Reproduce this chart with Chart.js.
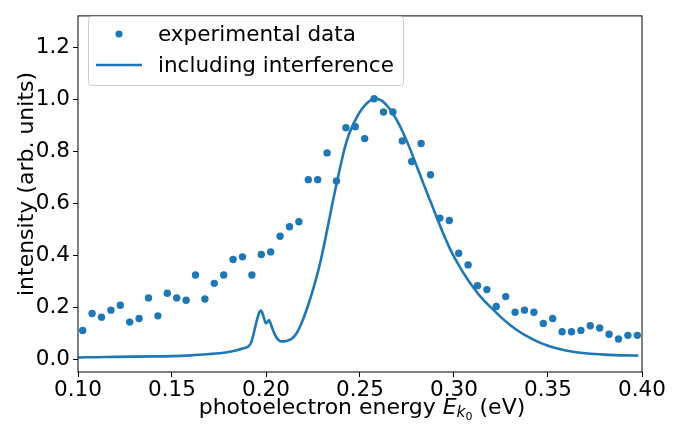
<!DOCTYPE html>
<html>
<head>
<meta charset="utf-8">
<script src="https://cdn.jsdelivr.net/npm/chart.js@4/dist/chart.umd.min.js"></script>
<style>
  body { margin: 0; background: #fff; }
  #wrap { width: 687px; height: 427px; }
</style>
</head>
<body>
<div id="wrap"><canvas id="chart" width="687" height="427"></canvas></div>
<script>
// measured points (energy in eV, intensity normalised)
const xExp = [0.1025, 0.1075, 0.1125, 0.1175, 0.1225, 0.1275, 0.1325, 0.1375, 0.1425, 0.1475,
              0.1525, 0.1575, 0.1625, 0.1675, 0.1725, 0.1775, 0.1825, 0.1875, 0.1925, 0.1975,
              0.2025, 0.2075, 0.2125, 0.2175, 0.2225, 0.2275, 0.2325, 0.2375, 0.2425, 0.2475,
              0.2525, 0.2575, 0.2625, 0.2675, 0.2725, 0.2775, 0.2825, 0.2875, 0.2925, 0.2975,
              0.3025, 0.3075, 0.3125, 0.3175, 0.3225, 0.3275, 0.3325, 0.3375, 0.3425, 0.3475,
              0.3525, 0.3575, 0.3625, 0.3675, 0.3725, 0.3775, 0.3825, 0.3875, 0.3925, 0.3975];
const yExp = [0.110, 0.175, 0.161, 0.188, 0.207, 0.142, 0.156, 0.235, 0.166, 0.253,
              0.235, 0.226, 0.323, 0.231, 0.291, 0.323, 0.383, 0.393, 0.323, 0.402,
              0.412, 0.472, 0.509, 0.528, 0.690, 0.690, 0.793, 0.685, 0.890, 0.894,
              0.848, 1.001, 0.950, 0.950, 0.839, 0.760, 0.829, 0.709, 0.542, 0.533,
              0.407, 0.362, 0.282, 0.267, 0.202, 0.240, 0.180, 0.188, 0.180, 0.137,
              0.156, 0.105, 0.105, 0.110, 0.128, 0.119, 0.095, 0.077, 0.091, 0.091];

// model curve "including interference"
const xFit = [0.100, 0.110, 0.120, 0.130, 0.140, 0.150, 0.160, 0.170, 0.175, 0.180,
              0.1845, 0.1880, 0.1906, 0.1922, 0.1935, 0.1950, 0.1962, 0.1973, 0.1983, 0.1993,
              0.2000, 0.2008, 0.2016, 0.2024, 0.2035, 0.2050, 0.2065, 0.2083, 0.2100, 0.2120,
              0.2140, 0.2160, 0.2180, 0.2200, 0.2220, 0.2240, 0.2260, 0.2280, 0.2300, 0.2320,
              0.2340, 0.2360, 0.2380, 0.2400, 0.2420, 0.2440, 0.2460, 0.2480, 0.2500, 0.2520,
              0.2540, 0.2560, 0.2580, 0.2600, 0.2620, 0.2640, 0.2660, 0.2680, 0.2700, 0.2720,
              0.2740, 0.2760, 0.2780, 0.2800, 0.2820, 0.2840, 0.2860, 0.2880, 0.2900, 0.2920,
              0.2940, 0.2960, 0.2980, 0.3000, 0.3020, 0.3040, 0.3060, 0.3080, 0.3100, 0.3120,
              0.3140, 0.3160, 0.3180, 0.3200, 0.3245, 0.3300, 0.3350, 0.3400, 0.3450, 0.3500,
              0.3550, 0.3600, 0.3650, 0.3700, 0.3750, 0.3800, 0.3900, 0.3980];
const yFit = [0.006, 0.007, 0.008, 0.009, 0.010, 0.011, 0.014, 0.019, 0.022, 0.027,
              0.034, 0.041, 0.048, 0.065, 0.100, 0.145, 0.175, 0.186, 0.172, 0.148,
              0.137, 0.142, 0.150, 0.138, 0.115, 0.090, 0.074, 0.068, 0.068, 0.072,
              0.080, 0.096, 0.123, 0.158, 0.198, 0.243, 0.292, 0.346, 0.408, 0.478,
              0.550, 0.622, 0.690, 0.755, 0.815, 0.862, 0.897, 0.926, 0.951, 0.971,
              0.986, 0.997, 1.002, 0.999, 0.991, 0.978, 0.960, 0.938, 0.913, 0.885,
              0.853, 0.819, 0.783, 0.745, 0.708, 0.670, 0.633, 0.597, 0.560, 0.523,
              0.488, 0.454, 0.422, 0.394, 0.368, 0.343, 0.320, 0.298, 0.278, 0.259,
              0.241, 0.225, 0.210, 0.196, 0.164, 0.130, 0.104, 0.083, 0.065, 0.051,
              0.040, 0.032, 0.026, 0.022, 0.019, 0.017, 0.014, 0.013];

const xTicks = [0.10, 0.15, 0.20, 0.25, 0.30, 0.35, 0.40];
const yTicks = [0.0, 0.2, 0.4, 0.6, 0.8, 1.0, 1.2];
const seriesNames = ["experimental data", "including interference"];

const blue = "#1f77b4";
const FONT = "DejaVu Sans";

// frame, axis titles and legend drawn like matplotlib
const extras = {
  id: "extras",
  afterDraw(chart) {
    const ctx = chart.ctx;
    const a = chart.chartArea;
    ctx.save();
    ctx.strokeStyle = "#000";
    ctx.lineWidth = 1;
    ctx.strokeRect(a.left, a.top, a.right - a.left, a.bottom - a.top);

    ctx.fillStyle = "#000";
    // x title with italic E and subscripts
    const parts = [
      { t: "photoelectron energy ", f: "22px " + FONT, dy: 0 },
      { t: "E", f: "italic 22px " + FONT, dy: 0 },
      { t: "k", f: "italic 15.5px " + FONT, dy: 3 },
      { t: "0", f: "11px " + FONT, dy: 6 },
      { t: " (eV)", f: "22px " + FONT, dy: 0 }
    ];
    let total = 0;
    parts.forEach(p => { ctx.font = p.f; p.w = ctx.measureText(p.t).width; total += p.w; });
    let x = (a.left + a.right) / 2 + 2 - total / 2;
    ctx.textBaseline = "alphabetic";
    ctx.textAlign = "left";
    parts.forEach(p => { ctx.font = p.f; ctx.fillText(p.t, x, 414 + p.dy); x += p.w; });

    // y title
    ctx.save();
    ctx.translate(33, 184);
    ctx.rotate(-Math.PI / 2);
    ctx.font = "22px " + FONT;
    ctx.textAlign = "center";
    ctx.fillText("intensity (arb. units)", 0, 0);
    ctx.restore();

    // legend
    ctx.beginPath();
    ctx.roundRect(88.5, 16.5, 315, 69, 3);
    ctx.fillStyle = "rgba(255,255,255,0.8)";
    ctx.fill();
    ctx.strokeStyle = "#cccccc";
    ctx.stroke();
    ctx.fillStyle = blue;
    ctx.beginPath();
    ctx.arc(119, 34, 3.6, 0, Math.PI * 2);
    ctx.fill();
    ctx.strokeStyle = blue;
    ctx.lineWidth = 2.6;
    ctx.beginPath();
    ctx.moveTo(96, 65);
    ctx.lineTo(142, 65);
    ctx.stroke();
    ctx.fillStyle = "#000";
    ctx.font = "21.5px " + FONT;
    ctx.textAlign = "left";
    ctx.fillText(seriesNames[0], 158, 41);
    ctx.fillText(seriesNames[1], 158, 72);
    ctx.restore();
  }
};

new Chart(document.getElementById("chart"), {
  data: {
    datasets: [
      {
        type: "scatter",
        label: seriesNames[0],
        data: xExp.map((x, i) => ({ x: x, y: yExp[i] })),
        backgroundColor: blue,
        borderWidth: 0,
        pointRadius: 3.7,
        order: 2
      },
      {
        type: "line",
        label: seriesNames[1],
        data: xFit.map((x, i) => ({ x: x, y: yFit[i] })),
        borderColor: blue,
        borderWidth: 2.6,
        pointRadius: 0,
        fill: false,
        cubicInterpolationMode: "monotone",
        order: 1
      }
    ]
  },
  options: {
    responsive: false,
    animation: false,
    layout: { padding: { top: 5, right: 45, bottom: 0, left: 0 } },
    plugins: { legend: { display: false }, tooltip: { enabled: false } },
    scales: {
      x: {
        type: "linear",
        min: 0.10,
        max: 0.40,
        afterBuildTicks: s => { s.ticks = xTicks.map(v => ({ value: v })); },
        afterFit: s => { s.height = 55; },
        grid: { drawOnChartArea: false, tickLength: 5, tickColor: "#000" },
        border: { display: false },
        ticks: {
          color: "#000",
          font: { family: FONT, size: 21.5 },
          padding: 1,
          maxRotation: 0,
          callback: v => v.toFixed(2)
        }
      },
      y: {
        type: "linear",
        min: -0.05,
        max: 1.32,
        afterBuildTicks: s => { s.ticks = yTicks.map(v => ({ value: v })); },
        afterFit: s => { s.width = 78; },
        grid: { drawOnChartArea: false, tickLength: 5, tickColor: "#000" },
        border: { display: false },
        ticks: {
          color: "#000",
          font: { family: FONT, size: 21.5 },
          padding: 3,
          callback: v => v.toFixed(1)
        }
      }
    }
  },
  plugins: [extras]
});
</script>
</body>
</html>
